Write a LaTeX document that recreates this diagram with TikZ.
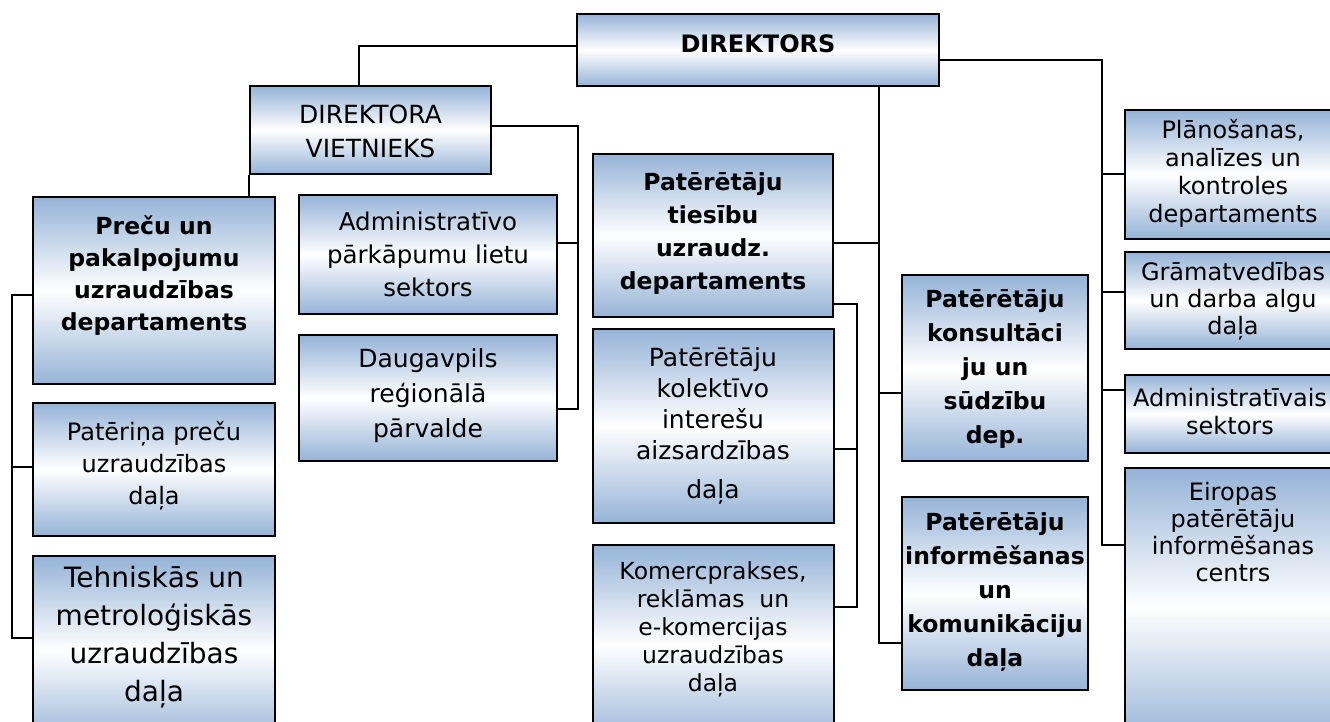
\documentclass[tikz,border=0pt]{standalone}
\usepackage{fontspec}
\setmainfont{DejaVu Sans}
\usetikzlibrary{shadows}
\definecolor{bl}{RGB}{149,179,215}
\tikzset{
  box/.style={draw=black, line width=2pt, rectangle, inner sep=0pt,
    top color=bl, bottom color=bl, middle color=white,
    drop shadow={shadow xshift=1.2pt, shadow yshift=-1.2pt, opacity=0.3, fill=black}},
  txt/.style={align=center, inner sep=0pt},
  conn/.style={line width=2pt, line join=miter},
}
\newcommand{\fs}[2]{\fontsize{#1}{#2}\selectfont}
\begin{document}
\begin{tikzpicture}[x=1pt,y=-1pt]
\useasboundingbox (0,0) rectangle (1330,722);
\clip (0,0) rectangle (1330,722);
% bus points
\coordinate (c1) at (359,46);
\coordinate (rb0) at (1102,60);
\coordinate (rb1) at (1102,174);
\coordinate (rb2) at (1102,292);
\coordinate (rb3) at (1102,390);
\coordinate (rb4) at (1102,545);
\coordinate (mb1) at (879,243);
\coordinate (mb2) at (879,393);
\coordinate (mb3) at (879,643);
\coordinate (vb0) at (578,126);
\coordinate (vb1) at (578,243);
\coordinate (vb2) at (578,409);
\coordinate (lb0) at (12,295);
\coordinate (lb1) at (12,467);
\coordinate (lb2) at (12,638);
\coordinate (pb0) at (857,304);
\coordinate (pb1) at (857,449);
\coordinate (pb2) at (857,607);
% boxes
\node[box, minimum width=362pt, minimum height=72pt] (dir) at (758,50) {};
\node[box, minimum width=241pt, minimum height=88pt] (viet) at (370.5,130) {};
\node[box, minimum width=242pt, minimum height=187pt] (prec) at (154,290.5) {};
\node[box, minimum width=242pt, minimum height=133pt] (pat1) at (154,469.5) {};
\node[box, minimum width=242pt, minimum height=189pt] (tehn) at (154,650.5) {};
\node[box, minimum width=258pt, minimum height=119pt] (admin) at (428,254.5) {};
\node[box, minimum width=258pt, minimum height=126pt] (daug) at (428,398) {};
\node[box, minimum width=240pt, minimum height=163pt] (pttd) at (713,235.5) {};
\node[box, minimum width=241pt, minimum height=194pt] (kol) at (713.5,426) {};
\node[box, minimum width=241pt, minimum height=200pt] (komerc) at (713.5,645) {};
\node[box, minimum width=186pt, minimum height=186pt] (kons) at (995,368) {};
\node[box, minimum width=186pt, minimum height=193pt] (inf) at (995,593.5) {};
\node[box, minimum width=220pt, minimum height=129pt] (plan) at (1235,174.5) {};
\node[box, minimum width=220pt, minimum height=97pt] (gram) at (1235,300.5) {};
\node[box, minimum width=220pt, minimum height=78pt] (adms) at (1235,414) {};
\node[box, minimum width=220pt, minimum height=277pt] (eiro) at (1235,606.5) {};
% connectors
\draw[conn] (dir.west |- c1) -- (c1) -- (c1 |- viet.north);
\draw[conn] (dir.east |- rb0) -- (rb0) -- (rb4) -- (eiro.west |- rb4);
\draw[conn] (rb1) -- (plan.west |- rb1);
\draw[conn] (rb2) -- (gram.west |- rb2);
\draw[conn] (rb3) -- (adms.west |- rb3);
\draw[conn] (dir.south -| mb1) -- (mb3) -- (inf.west |- mb3);
\draw[conn] (pttd.east |- mb1) -- (mb1);
\draw[conn] (mb2) -- (kons.west |- mb2);
\draw[conn] (viet.east |- vb0) -- (vb0) -- (vb2) -- (daug.east |- vb2);
\draw[conn] (vb1) -- (admin.east |- vb1);
\draw[conn] (viet.south west) -- (viet.south west |- prec.north);
\draw[conn] (prec.west |- lb0) -- (lb0) -- (lb2) -- (tehn.west |- lb2);
\draw[conn] (lb1) -- (pat1.west |- lb1);
\draw[conn] (pttd.east |- pb0) -- (pb0) -- (pb2) -- (komerc.east |- pb2);
\draw[conn] (pb1) -- (kol.east |- pb1);
% texts
\node[txt, font=\fs{24}{28}\bfseries] (dirT) at (758,44) {DIREKTORS};
\node[txt, font=\fs{25}{34}] (vietT) at (370.5,131) {DIREKTORA\\VIETNIEKS};
\node[txt, font=\fs{23.5}{32}\bfseries] (precT) at (154,276) {Preču un\\pakalpojumu\\uzraudzības\\departaments};
\node[txt, font=\fs{24}{32}] (pat1T) at (154,466) {Patēriņa preču\\uzraudzības\\daļa};
\node[txt, font=\fs{28}{38}] (tehnT) at (154,637) {Tehniskās un\\metroloģiskās\\uzraudzības\\daļa};
\node[txt, font=\fs{24.5}{33}] (adminT) at (428,254) {Administratīvo\\pārkāpumu lietu\\sektors};
\node[txt, font=\fs{25}{35}] (daugT) at (428,396) {Daugavpils\\reģionālā\\pārvalde};
\node[txt, font=\fs{23.5}{33}\bfseries] (pttdT) at (713,233) {Patērētāju\\tiesību\\uzraudz.\\departaments};
\node[txt, font=\fs{25}{31}] (kolT) at (713,426) {Patērētāju\\kolektīvo\\interešu\\aizsardzības\\[8pt]daļa};
\node[txt, font=\fs{23.5}{28}] (komT) at (713,629) {Komercprakses,\\reklāmas\ \ un\\e-komercijas\\uzraudzības\\daļa};
\node[txt, font=\fs{23.5}{34}\bfseries] (konT) at (995,369) {Patērētāju\\konsultāci\\ju un\\sūdzību\\dep.};
\node[txt, font=\fs{23.5}{34}\bfseries] (infT) at (995,592) {Patērētāju\\informēšanas\\un\\komunikāciju\\daļa};
\node[txt, font=\fs{24}{28}] (planT) at (1233,173) {Plānošanas,\\analīzes un\\kontroles\\departaments};
\node[txt, font=\fs{24}{27}] (gramT) at (1233,301) {Grāmatvedības\\un darba algu\\daļa};
\node[txt, font=\fs{24}{28}] (admsT) at (1230,412) {Administratīvais\\sektors};
\node[txt, font=\fs{24}{27}] (eiroT) at (1233,532) {Eiropas\\patērētāju\\informēšanas\\centrs};
\end{tikzpicture}
\end{document}
